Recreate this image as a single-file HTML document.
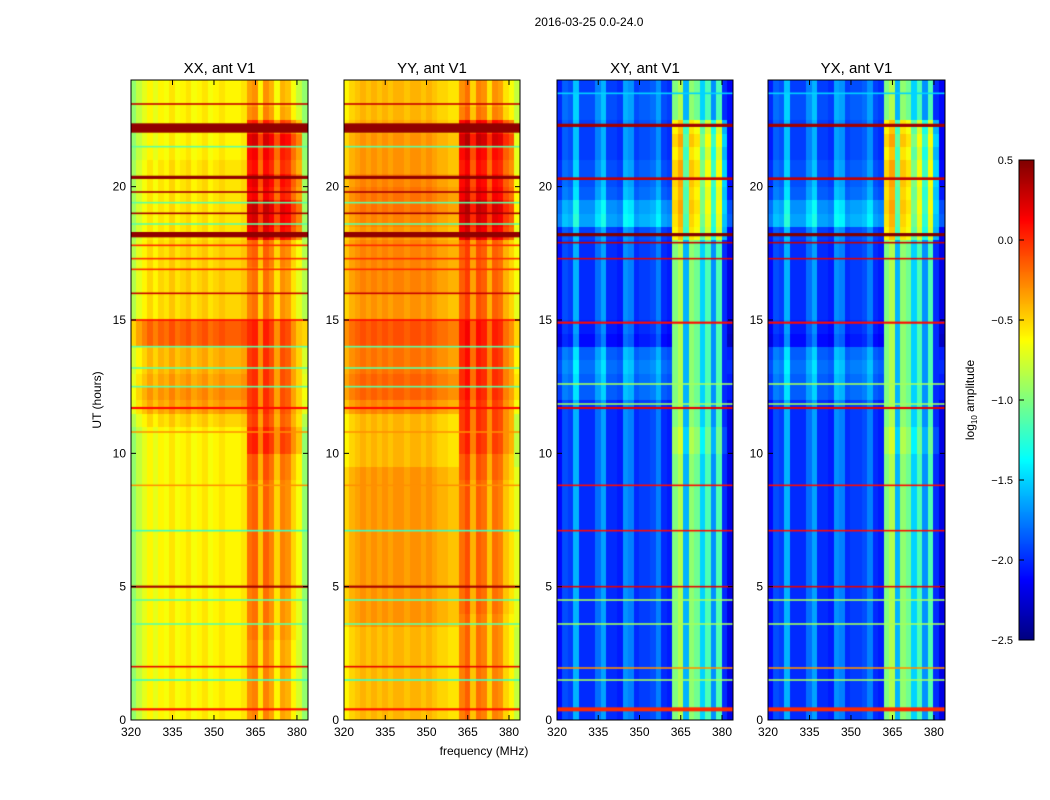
<!DOCTYPE html>
<html><head><meta charset="utf-8"><style>
body{margin:0;background:#fff;width:1050px;height:800px;overflow:hidden;position:relative;font-family:"Liberation Sans",sans-serif}
canvas{position:absolute}
svg{position:absolute;left:0;top:0}
</style></head><body>
<canvas id="c0" width="177" height="640" style="left:131px;top:80px"></canvas>
<canvas id="c1" width="176" height="640" style="left:344px;top:80px"></canvas>
<canvas id="c2" width="176" height="640" style="left:557px;top:80px"></canvas>
<canvas id="c3" width="177" height="640" style="left:768px;top:80px"></canvas>
<canvas id="cb" width="15" height="480" style="left:1019px;top:160px"></canvas>
<svg id="ov" width="1050" height="800"></svg>
<script>
// ---- data ----
const fMin=320, fMax=384, tMin=0, tMax=24, vMin=-2.5, vMax=0.5;
const freqBins=[320,322,324,326,328,330,332,334,336,338,340,342,344,346,348,350,352,354,356,358,360,362,364,366,368,370,372,374,376,378,380,382];
const bandMask=[0,0,0,0,0,0,0,0,0,0,0,0,0,0,0,0,0,0,0,0,0,1,1,1,1,1,1,1,1,1,1,0];
const xxFreq=[-0.95,-0.8,-0.7,-0.6,-0.7,-0.6,-0.65,-0.55,-0.65,-0.6,-0.55,-0.65,-0.6,-0.55,-0.65,-0.6,-0.55,-0.6,-0.6,-0.6,-0.55,-0.3,-0.25,-0.55,-0.25,-0.35,-0.6,-0.35,-0.4,-0.6,-0.75,-0.95];
const yyFreq=[-0.55,-0.45,-0.4,-0.35,-0.4,-0.35,-0.4,-0.35,-0.4,-0.35,-0.35,-0.4,-0.35,-0.35,-0.4,-0.35,-0.4,-0.45,-0.45,-0.5,-0.5,-0.25,-0.15,-0.45,-0.2,-0.25,-0.5,-0.25,-0.3,-0.5,-0.6,-0.75];
const xyFreq=[-2.1,-1.9,-1.95,-1.6,-2.0,-2.0,-2.0,-1.8,-1.65,-2.0,-2.0,-2.05,-1.7,-1.75,-2.0,-1.95,-1.95,-1.9,-1.75,-2.0,-2.05,-1.0,-0.85,-1.6,-0.95,-1.05,-1.5,-1.15,-1.7,-1.15,-2.0,-2.2];
const timeBins=[0,0.5,1,1.5,2,2.5,3,3.5,4,4.5,5,5.5,6,6.5,7,7.5,8,8.5,9,9.5,10,10.5,11,11.5,12,12.5,13,13.5,14,14.5,15,15.5,16,16.5,17,17.5,18,18.5,19,19.5,20,20.5,21,21.5,22,22.5,23,23.5];
const xxOff=[0,0,0,0,0,0,0,0,0,0,0,0,0,0,0,0,0,0,0,0,0,0,0.1,0.25,0.3,0.25,0.2,0.2,0.45,0.45,0.1,0.1,0.1,0.1,0.1,0.1,0.05,0.05,0.05,0.05,0.05,0.05,0,0,0,0,0,0];
const xxBand=[0,0,0,0,0,0,0.05,0.05,0.05,0.05,0.1,0.1,0.1,0.1,0.1,0.1,0.1,0.1,0.15,0.15,0.3,0.3,0.2,0.25,0.25,0.25,0.25,0.25,0.3,0.3,0.05,0.05,0.05,0.05,0.1,0.1,0.45,0.5,0.55,0.4,0.45,0.35,0.4,0.5,0.3,0,-0.05,-0.05];
const yyOff=[-0.05,-0.05,-0.05,-0.05,-0.05,-0.05,-0.05,0.05,0.05,0.05,0.05,0.05,0.05,0.05,0.05,0.05,0.05,0.05,0.05,-0.05,-0.05,-0.05,-0.05,0.1,0.2,0.2,0.15,0.15,0.25,0.25,0.05,0.05,0.1,0.1,0.1,0.1,0.05,0.1,0.15,0.15,0.1,0.05,0.05,0.05,0,-0.05,-0.05,-0.05];
const yyBand=[0,0,0,0,0,0,0,0,0.05,0.05,0.05,0.05,0.05,0.05,0.05,0.05,0.05,0.05,0.1,0.1,0.2,0.2,0.2,0.2,0.25,0.25,0.25,0.25,0.3,0.3,0.1,0.1,0.1,0.1,0.1,0.1,0.4,0.45,0.5,0.4,0.35,0.3,0.35,0.5,0.35,0,-0.05,-0.05];
const xyOff=[0,0,0,0,0,0,0,0,0,0,0,0,0,0,0,0,0,0,0,0,0,0,0,0,0.15,0.15,0.2,0.15,-0.1,-0.05,0,0,0,0,0,0,0.05,0.35,0.3,0.15,0.1,0.1,0.05,0.05,0.05,0.1,0.1,0.05];
const xyBand=[0,0,0,0,0,0,0,0,0,0,0,0,0,0,0,0,0,0,0,0,0.1,0.1,0,0,0,0,0,0,0,0,0,0,0,0,0,0,0.4,0.45,0.5,0.45,0.5,0.5,0.4,0.5,0.4,0,0,0];
const xxStripeT=[0.4,1.5,2.0,3.6,4.5,5.0,7.1,8.8,10.8,11.7,12.5,13.2,14.0,15.0,16.0,16.9,17.3,17.8,18.2,18.6,19.0,19.4,19.8,20.35,21.5,22.2,23.1];
const xxStripeV=[0.1,-1.2,0.2,-1.1,-1.1,0.4,-1.2,-0.3,-0.3,0.1,-1.1,-1.1,-1.1,0.1,0.3,0.0,0.0,0.0,0.45,-1.1,0.4,-1.1,0.4,0.45,-1.1,0.45,0.3];
const xxStripeW=[0.08,0.06,0.06,0.06,0.06,0.08,0.06,0.05,0.05,0.08,0.06,0.06,0.06,0.06,0.06,0.06,0.06,0.06,0.2,0.06,0.06,0.06,0.06,0.12,0.06,0.35,0.06];
const xyStripeT=[0.4,1.5,1.95,3.6,4.5,5.0,7.1,8.8,11.7,11.85,12.6,14.9,17.3,17.9,18.2,20.3,22.3,23.5];
const xyStripeV=[0.0,-0.9,-0.3,-0.9,-0.9,0.2,0.1,0.1,0.2,-0.9,-0.9,0.1,0.2,0.3,0.5,0.3,0.4,-1.5];
const xyStripeW=[0.15,0.06,0.06,0.06,0.06,0.06,0.06,0.06,0.08,0.06,0.06,0.08,0.06,0.06,0.12,0.1,0.12,0.06];
const freqTicks=[320,335,350,365,380];
const timeTicks=[0,5,10,15,20];
const cbTicks=[0.5,0.0,-0.5,-1.0,-1.5,-2.0,-2.5];
const titles=["XX, ant V1","YY, ant V1","XY, ant V1","YX, ant V1"];

// ---- helpers ----
function jet(v){let t=(v-vMin)/(vMax-vMin);t=Math.max(0,Math.min(1,t));
 const c=x=>Math.round(255*Math.max(0,Math.min(1,x)));
 const r=c(Math.min(4*t-1.5,-4*t+4.5)),g=c(Math.min(4*t-0.5,-4*t+3.5)),b=c(Math.min(4*t+0.5,-4*t+2.5));
 return `rgb(${r},${g},${b})`;}
const panels=[{x:131,w:177,id:'c0',f:xxFreq,o:xxOff,b:xxBand,sT:xxStripeT,sV:xxStripeV,sW:xxStripeW},
 {x:344,w:176,id:'c1',f:yyFreq,o:yyOff,b:yyBand,sT:xxStripeT,sV:xxStripeV,sW:xxStripeW},
 {x:557,w:176,id:'c2',f:xyFreq,o:xyOff,b:xyBand,sT:xyStripeT,sV:xyStripeV,sW:xyStripeW},
 {x:768,w:177,id:'c3',f:xyFreq,o:xyOff,b:xyBand,sT:xyStripeT,sV:xyStripeV,sW:xyStripeW}];
const top0=80,H=640;
function yS(t){return H-(t-tMin)/(tMax-tMin)*H;}
panels.forEach(p=>{
 const ctx=document.getElementById(p.id).getContext('2d');
 const xS=f=>(f-fMin)/(fMax-fMin)*p.w;
 for(let j=0;j<timeBins.length;j++){
  const t0=timeBins[j],t1=j+1<timeBins.length?timeBins[j+1]:tMax;
  for(let i=0;i<freqBins.length;i++){
   const f0=freqBins[i],f1=i+1<freqBins.length?freqBins[i+1]:fMax;
   const v=p.f[i]+(bandMask[i]?p.b[j]:p.o[j]);
   ctx.fillStyle=jet(v);
   const x0=Math.floor(xS(f0)),x1=Math.ceil(xS(f1));
   const y0=Math.floor(yS(t1)),y1=Math.ceil(yS(t0));
   ctx.fillRect(x0,y0,x1-x0,y1-y0);
  }
 }
 for(let k=0;k<p.sT.length;k++){
  ctx.fillStyle=jet(p.sV[k]);
  const h=Math.max(1.5,p.sW[k]/(tMax-tMin)*H);
  ctx.fillRect(0,yS(p.sT[k])-h/2,p.w,h);
 }
});
const cb=document.getElementById('cb').getContext('2d');
for(let y=0;y<480;y++){cb.fillStyle=jet(vMax-(y+0.5)/480*(vMax-vMin));cb.fillRect(0,y,15,1);}

const NS='http://www.w3.org/2000/svg',svg=document.getElementById('ov');
function el(tag,attrs,txt){const e=document.createElementNS(NS,tag);for(const k in attrs)e.setAttribute(k,attrs[k]);if(txt!==undefined)e.textContent=txt;svg.appendChild(e);return e;}
panels.forEach((p,pi)=>{
 const xS=f=>p.x+(f-fMin)/(fMax-fMin)*p.w;
 const fr=el('rect',{x:p.x,y:top0,width:p.w,height:H,fill:'none',stroke:'#000','stroke-width':1});
 
 
 const tt=el('text',{x:p.x+p.w/2,y:73,'text-anchor':'middle','font-size':15},titles[pi]);
 
 
 freqTicks.forEach(f=>{
  el('line',{x1:xS(f),x2:xS(f),y1:top0+H,y2:top0+H-5,stroke:'#000'});
  el('line',{x1:xS(f),x2:xS(f),y1:top0,y2:top0+5,stroke:'#000'});
  const l=el('text',{x:xS(f),y:736,'text-anchor':'middle','font-size':12},String(f));
  
  
 });
 timeTicks.forEach(t=>{
  const y=top0+yS(t);
  el('line',{x1:p.x,x2:p.x+5,y1:y,y2:y,stroke:'#000'});
  el('line',{x1:p.x+p.w,x2:p.x+p.w-5,y1:y,y2:y,stroke:'#000'});
  const l=el('text',{x:p.x-5,y:y+4,'text-anchor':'end','font-size':12},String(t));
  
  
 });
});
el('rect',{x:1019,y:160,width:15,height:480,fill:'none',stroke:'#000'});
cbTicks.forEach(v=>{const y=160+(vMax-v)/(vMax-vMin)*480;
 el('line',{x1:1019,x2:1024,y1:y,y2:y,stroke:'#000'});
 const l=el('text',{x:1013,y:y+4,'font-size':11,'text-anchor':'end'},v.toFixed(1).replace('-','−'));
 
 });
</script>
<svg width="1050" height="800" style="pointer-events:none">
<text x="589" y="26" text-anchor="middle" font-size="12" font-family="Liberation Sans">2016-03-25 0.0-24.0</text>
<text x="484" y="755" text-anchor="middle" font-size="12" font-family="Liberation Sans">frequency (MHz)</text>
<text transform="translate(101,400) rotate(-90)" text-anchor="middle" font-size="12" font-family="Liberation Sans">UT (hours)</text>
<text transform="translate(974,400) rotate(-90)" text-anchor="middle" font-size="12" font-family="Liberation Sans">log<tspan font-size="8" dy="3">10</tspan><tspan dy="-3"> amplitude</tspan></text>
</svg>
</body></html>
